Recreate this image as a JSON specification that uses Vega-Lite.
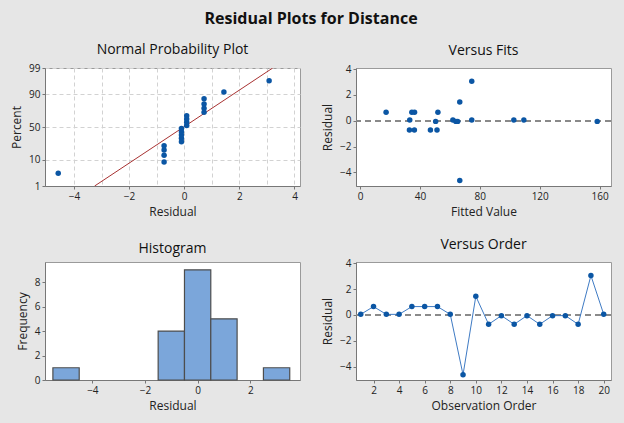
{
  "$schema": "https://vega.github.io/schema/vega-lite/v6.json",
  "background": "#E6E6E6",
  "padding": {"left": 10, "top": 10, "right": 12, "bottom": 14},
  "title": {"text": "Residual Plots for Distance", "fontSize": 16, "fontWeight": "bold", "color": "#111111", "anchor": "middle", "offset": 16},
  "config": {
    "font": "Open Sans",
    "view": {"stroke": "#9A9A9A", "fill": "white"},
    "axis": {"labelFontSize": 10, "labelColor": "#222222", "titleFontSize": 12, "titleFontWeight": "normal", "titleColor": "#222222", "domainColor": "#777777", "tickColor": "#777777", "tickSize": 3, "grid": false, "labelPadding": 2, "titlePadding": 5, "tickCount": 50, "format": "d"},
    "title": {"fontSize": 14, "fontWeight": "normal", "color": "#111111", "offset": 6}
  },
  "datasets": {
    "obs": [
      {"order": 1, "residual": 0.05, "fitted": 33.2},
      {"order": 2, "residual": 0.65, "fitted": 17.4},
      {"order": 3, "residual": 0.05, "fitted": 62},
      {"order": 4, "residual": 0.05, "fitted": 74.6},
      {"order": 5, "residual": 0.65, "fitted": 34.6},
      {"order": 6, "residual": 0.65, "fitted": 36.4},
      {"order": 7, "residual": 0.65, "fitted": 52},
      {"order": 8, "residual": 0.05, "fitted": 102.7},
      {"order": 9, "residual": -4.62, "fitted": 66.6},
      {"order": 10, "residual": 1.45, "fitted": 66.6},
      {"order": 11, "residual": -0.72, "fitted": 33},
      {"order": 12, "residual": -0.05, "fitted": 50.5},
      {"order": 13, "residual": -0.72, "fitted": 36.3},
      {"order": 14, "residual": -0.05, "fitted": 64},
      {"order": 15, "residual": -0.72, "fitted": 47},
      {"order": 16, "residual": -0.05, "fitted": 65.2},
      {"order": 17, "residual": -0.05, "fitted": 158.4},
      {"order": 18, "residual": -0.72, "fitted": 51.4},
      {"order": 19, "residual": 3.05, "fitted": 74.6},
      {"order": 20, "residual": 0.05, "fitted": 109.4}
    ],
    "npp": [
      {"residual": -4.57, "z": -1.82},
      {"residual": -0.73, "z": -1.383},
      {"residual": -0.73, "z": -1.115},
      {"residual": -0.73, "z": -0.91},
      {"residual": -0.73, "z": -0.737},
      {"residual": -0.1, "z": -0.584},
      {"residual": -0.1, "z": -0.445},
      {"residual": -0.1, "z": -0.312},
      {"residual": -0.1, "z": -0.185},
      {"residual": -0.1, "z": -0.061},
      {"residual": 0.09, "z": 0.061},
      {"residual": 0.09, "z": 0.185},
      {"residual": 0.09, "z": 0.312},
      {"residual": 0.09, "z": 0.445},
      {"residual": 0.72, "z": 0.584},
      {"residual": 0.72, "z": 0.737},
      {"residual": 0.72, "z": 0.91},
      {"residual": 0.72, "z": 1.115},
      {"residual": 1.44, "z": 1.383},
      {"residual": 3.08, "z": 1.82}
    ],
    "fitline": [
      {"residual": -3.25, "z": -2.3263},
      {"residual": 3.21, "z": 2.3263}
    ],
    "hist": [
      {"bin_start": -5.5, "bin_end": -4.5, "count": 1},
      {"bin_start": -1.5, "bin_end": -0.5, "count": 4},
      {"bin_start": -0.5, "bin_end": 0.5, "count": 9},
      {"bin_start": 0.5, "bin_end": 1.5, "count": 5},
      {"bin_start": 2.5, "bin_end": 3.5, "count": 1}
    ]
  },
  "columns": 2,
  "bounds": "flush",
  "spacing": {"row": 76, "column": 56},
  "concat": [
    {
      "title": "Normal Probability Plot",
      "width": 255,
      "height": 118,
      "layer": [
        {
          "data": {"name": "fitline"},
          "mark": {"type": "line", "color": "#A83232", "strokeWidth": 1, "clip": true},
          "encoding": {
            "x": {"field": "residual", "type": "quantitative", "title": "Residual",
              "scale": {"domain": [-5.05, 4.2], "nice": false, "zero": false},
              "axis": {"values": [-4, -3, -2, -1, 0, 1, 2, 3, 4], "grid": true, "gridColor": "#D2D2D2", "gridDash": [4, 3],
                "labelExpr": "datum.value % 2 == 0 ? datum.label : ''",
                "tickOpacity": {"condition": {"test": "datum.value % 2 != 0", "value": 0}, "value": 1}}},
            "y": {"field": "z", "type": "quantitative", "title": "Percent",
              "scale": {"domain": [-2.3263, 2.3263], "nice": false, "zero": false},
              "axis": {"values": [-2.3263, -1.2816, 0, 1.2816, 2.3263], "grid": true, "gridColor": "#D2D2D2", "gridDash": [4, 3],
                "labelExpr": "datum.value < -2 ? '1' : datum.value < -1 ? '10' : datum.value < 1 ? '50' : datum.value < 2 ? '90' : '99'"}}
          }
        },
        {
          "data": {"name": "npp"},
          "mark": {"type": "circle", "size": 30, "color": "#0B56A4", "opacity": 1},
          "encoding": {
            "x": {"field": "residual", "type": "quantitative"},
            "y": {"field": "z", "type": "quantitative"}
          }
        }
      ]
    },
    {
      "title": "Versus Fits",
      "width": 255,
      "height": 118,
      "data": {"name": "obs"},
      "layer": [
        {
          "mark": {"type": "rule", "color": "#8A8A8A", "strokeDash": [6, 4], "strokeWidth": 1},
          "encoding": {"y": {"datum": 0}}
        },
        {
          "mark": {"type": "circle", "size": 30, "color": "#0B56A4", "opacity": 1},
          "encoding": {
            "x": {"field": "fitted", "type": "quantitative", "title": "Fitted Value",
              "scale": {"domain": [-2.7, 167.6], "nice": false, "zero": false},
              "axis": {"values": [0, 40, 80, 120, 160]}},
            "y": {"field": "residual", "type": "quantitative", "title": "Residual",
              "scale": {"domain": [-5.05, 4.08], "nice": false, "zero": false},
              "axis": {"values": [-4, -2, 0, 2, 4]}}
          }
        }
      ]
    },
    {
      "title": "Histogram",
      "width": 255,
      "height": 118,
      "data": {"name": "hist"},
      "mark": {"type": "rect", "fill": "#7BA6DA", "stroke": "#4D4D4D", "strokeWidth": 1.2},
      "encoding": {
        "x": {"field": "bin_start", "type": "quantitative", "title": "Residual",
          "scale": {"domain": [-5.8, 3.89], "nice": false, "zero": false},
          "axis": {"values": [-4, -2, 0, 2]}},
        "x2": {"field": "bin_end"},
        "y": {"field": "count", "type": "quantitative", "title": "Frequency",
          "scale": {"domain": [0, 9.64], "nice": false},
          "axis": {"values": [0, 2, 4, 6, 8]}},
        "y2": {"datum": 0}
      }
    },
    {
      "title": "Versus Order",
      "width": 255,
      "height": 118,
      "data": {"name": "obs"},
      "layer": [
        {
          "mark": {"type": "rule", "color": "#8A8A8A", "strokeDash": [6, 4], "strokeWidth": 1},
          "encoding": {"y": {"datum": 0}}
        },
        {
          "mark": {"type": "line", "color": "#3F7BC4", "strokeWidth": 1, "point": {"filled": true, "size": 30, "color": "#0B56A4", "opacity": 1}},
          "encoding": {
            "x": {"field": "order", "type": "quantitative", "title": "Observation Order",
              "scale": {"domain": [0.63, 20.57], "nice": false, "zero": false},
              "axis": {"values": [2, 4, 6, 8, 10, 12, 14, 16, 18, 20]}},
            "y": {"field": "residual", "type": "quantitative", "title": "Residual",
              "scale": {"domain": [-5.03, 4.1], "nice": false, "zero": false},
              "axis": {"values": [-4, -2, 0, 2, 4]}}
          }
        }
      ]
    }
  ]
}
